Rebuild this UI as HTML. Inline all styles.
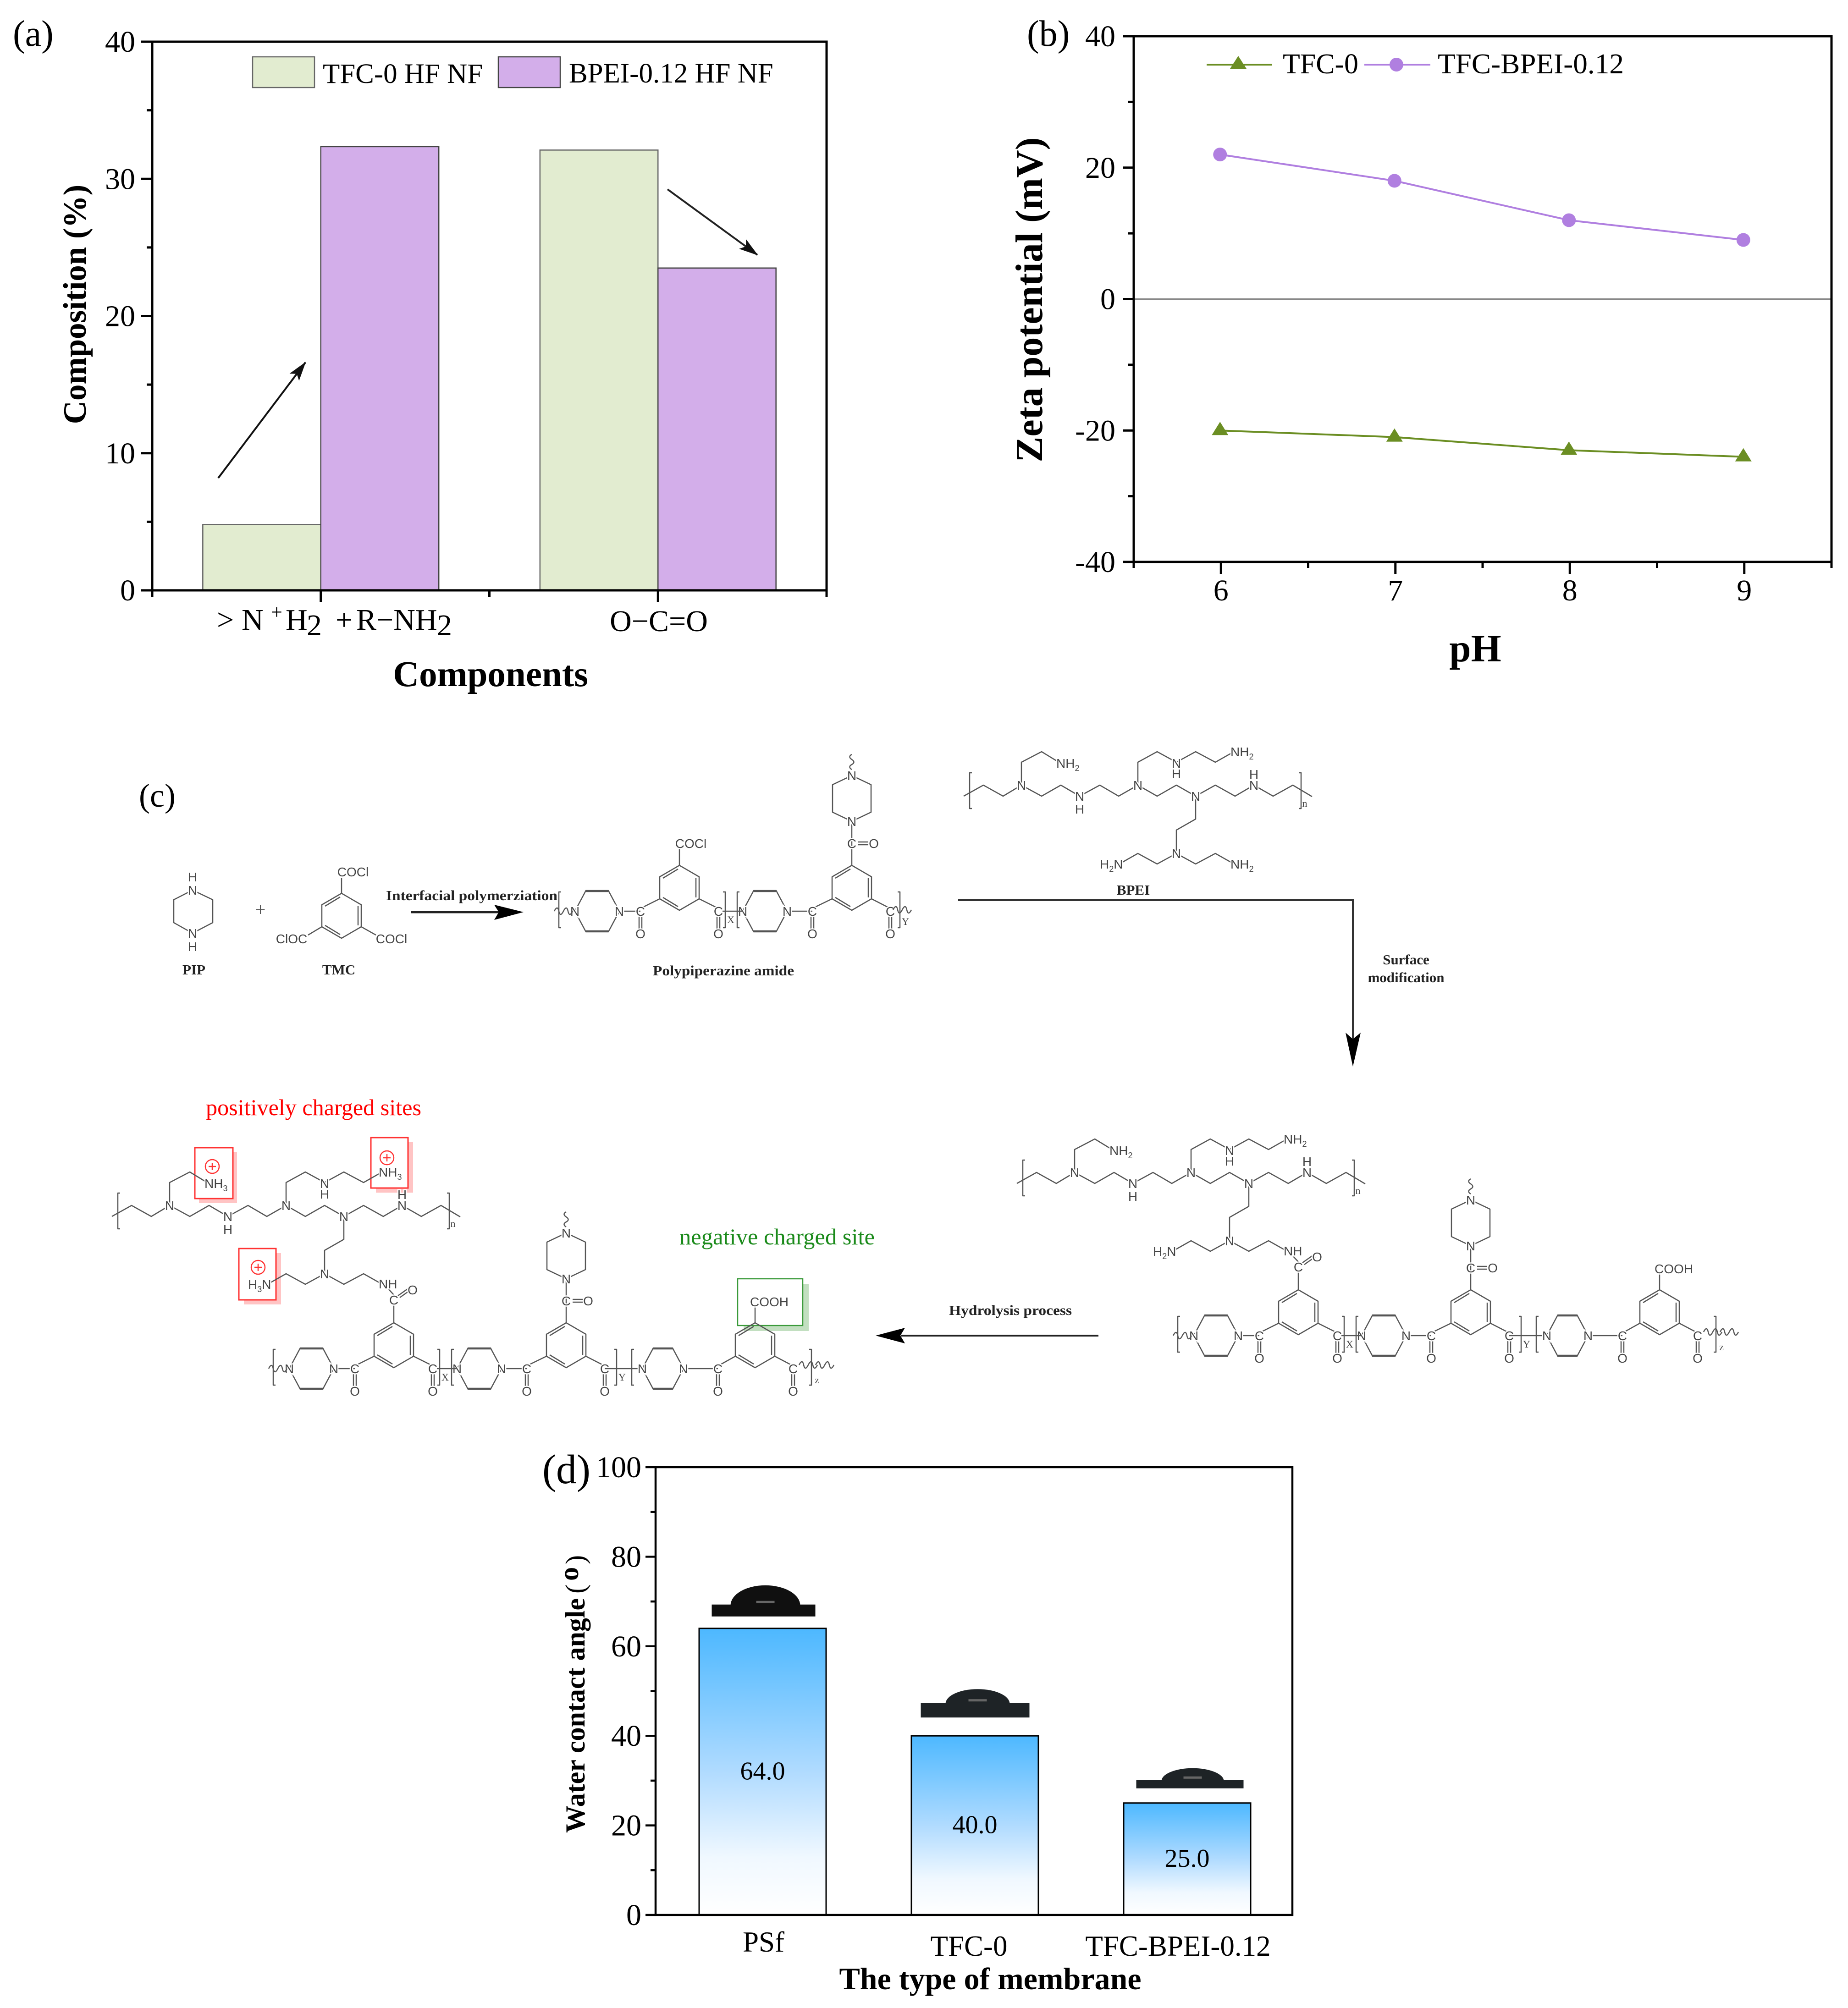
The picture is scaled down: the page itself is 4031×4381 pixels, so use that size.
<!DOCTYPE html>
<html>
<head>
<meta charset="utf-8">
<title>Membrane characterisation figure</title>
<style>
html,body{margin:0;padding:0;background:#fff;}
svg{display:block;}
text{font-family:"Liberation Serif",serif;fill:#000;}
.tick{font-size:66px;}
.title{font-size:76px;font-weight:bold;}
.panel{font-size:80px;}
.chem-title{font-size:31px;font-weight:bold;fill:#222;}
.atom{font-family:"Liberation Sans",sans-serif;font-size:28px;fill:#444;stroke:#fff;stroke-width:5px;paint-order:stroke;}
.small{font-size:22px;fill:#444;}
.bond{fill:none;stroke:#555;stroke-width:2.5;stroke-linejoin:round;}
</style>
</head>
<body>
<svg id="figure" xmlns="http://www.w3.org/2000/svg" width="4031" height="4381" viewBox="0 0 4031 4381">
<defs>
<linearGradient id="barFade" x1="0" y1="0" x2="0" y2="1">
<stop offset="0" stop-color="#4db8ff"/>
<stop offset="0.5" stop-color="#b0dbff"/>
<stop offset="0.8" stop-color="#f0f8ff"/>
<stop offset="1" stop-color="#ffffff"/>
</linearGradient>
<marker id="head" markerUnits="userSpaceOnUse" markerWidth="44" markerHeight="28" refX="40" refY="14" orient="auto">
<path d="M0,1 L42,14 L0,27 L9,14 Z" fill="#111"/>
</marker>
</defs>
<rect width="4031" height="4381" fill="#fff"/>

<!-- Panel a -->
<g id="panelA">
<text class="panel" x="28" y="100">(a)</text>
<text class="title" style="font-size:71px" transform="translate(187,664) rotate(-90)" text-anchor="middle">Composition (%)</text>
<text class="title" style="font-size:79px" x="1070" y="1497" text-anchor="middle">Components</text>
<g>
<rect x="551" y="124" width="135" height="67" fill="#e2ecd0" stroke="#666" stroke-width="2.5"/>
<text style="font-size:61px" x="704" y="181">TFC-0 HF NF</text>
<rect x="1087" y="124" width="135" height="67" fill="#d3aeea" stroke="#444" stroke-width="2.5"/>
<text style="font-size:61px" x="1241" y="180">BPEI-0.12 HF NF</text>
</g>
<text class="tick" y="1374"><tspan x="473">&gt;</tspan><tspan x="527">N</tspan><tspan x="591" y="1350" style="font-size:44px">+</tspan><tspan x="623" y="1374">H</tspan><tspan x="669" y="1386">2</tspan><tspan x="732" y="1374">+</tspan><tspan x="777">R−NH</tspan><tspan x="953" y="1386">2</tspan></text>
<text class="tick" x="1437" y="1377" text-anchor="middle">O−C=O</text>
</g>

<!-- Panel b -->
<g id="panelB">
<text class="panel" x="2240" y="100">(b)</text>
<text class="title" style="font-size:84px" transform="translate(2273,654) rotate(-90)" text-anchor="middle">Zeta potential (mV)</text>
<text class="title" style="font-size:85px" x="3218" y="1443" text-anchor="middle">pH</text>
<g>
<line x1="2632" x2="2774" y1="141" y2="141" stroke="#6b8e23" stroke-width="4"/>
<path d="M2701,122 L2719,150 L2683,150 Z" fill="#6b8e23"/>
<text style="font-size:62px" x="2798" y="160" textLength="165" lengthAdjust="spacingAndGlyphs">TFC-0</text>
<line x1="2976" x2="3120" y1="141" y2="141" stroke="#b07fe0" stroke-width="4"/>
<circle cx="3046" cy="141" r="15" fill="#b07fe0"/>
<text style="font-size:62px" x="3136" y="160" textLength="406" lengthAdjust="spacingAndGlyphs">TFC-BPEI-0.12</text>
</g>
</g>

<!-- Panel c -->
<g id="panelC">
<text style="font-size:72px" x="303" y="1760">(c)</text>
<text class="chem-title" x="423" y="2126" text-anchor="middle">PIP</text>
<text class="chem-title" x="739" y="2126" text-anchor="middle">TMC</text>
<text class="chem-title" x="1578" y="2128" text-anchor="middle" textLength="308" lengthAdjust="spacingAndGlyphs">Polypiperazine amide</text>
<text class="chem-title" x="842" y="1964" textLength="374" lengthAdjust="spacingAndGlyphs">Interfacial polymerziation</text>
<text style="font-size:40px;fill:#555;" x="568" y="1998" text-anchor="middle">+</text>
<line x1="897" y1="1990" x2="1090" y2="1990" stroke="#222" stroke-width="5"/>
<path d="M1142,1990 L1078,1974 L1088,1990 L1078,2007 Z" fill="#000"/>
<text class="chem-title" x="2472" y="1952" text-anchor="middle">BPEI</text>
<path d="M2090,1964 H2951 V2270" fill="none" stroke="#333" stroke-width="4"/>
<path d="M2951,2327 L2935,2253 L2951,2267 L2968,2253 Z" fill="#000"/>
<text class="chem-title" x="3067" y="2104" text-anchor="middle">Surface</text>
<text class="chem-title" x="3067" y="2143" text-anchor="middle">modification</text>
<text class="chem-title" x="2204" y="2869" text-anchor="middle" textLength="268" lengthAdjust="spacingAndGlyphs">Hydrolysis process</text>
<line x1="1965" y1="2914" x2="2396" y2="2914" stroke="#222" stroke-width="4"/>
<path d="M1910,2914 L1974,2897 L1964,2914 L1974,2931 Z" fill="#000"/>
<text style="font-size:50px;fill:#f00;" x="449" y="2433" textLength="470" lengthAdjust="spacingAndGlyphs">positively charged sites</text>
<text style="font-size:50px;fill:#1a8a1a;" x="1482" y="2715" textLength="426" lengthAdjust="spacingAndGlyphs">negative charged site</text>
<g>
<rect x="434" y="2514" width="83" height="111" fill="#ffc4c4"/>
<rect x="425" y="2504" width="83" height="111" fill="#fff" stroke="#f33" stroke-width="3"/>
<rect x="820" y="2492" width="81" height="110" fill="#ffc4c4"/>
<rect x="809" y="2482" width="81" height="110" fill="#fff" stroke="#f33" stroke-width="3"/>
<rect x="532" y="2734" width="81" height="112" fill="#ffc4c4"/>
<rect x="521" y="2724" width="81" height="112" fill="#fff" stroke="#f33" stroke-width="3"/>
<rect x="1622" y="2802" width="142" height="102" fill="#c2dfc0"/>
<rect x="1609" y="2790" width="142" height="102" fill="#fff" stroke="#3a9a3a" stroke-width="2.5"/>
</g>
<g id="chemLayer"></g>
<g fill="none" stroke="#f33" stroke-width="2.5">
<g transform="translate(463,2545)"><circle r="15"/><path d="M-8,0 H8 M0,-8 V8"/></g>
<g transform="translate(844,2526)"><circle r="15"/><path d="M-8,0 H8 M0,-8 V8"/></g>
<g transform="translate(563,2765)"><circle r="15"/><path d="M-8,0 H8 M0,-8 V8"/></g>
</g>
</g>

<!-- Panel d -->
<g id="panelD">
<text style="font-size:90px" x="1183" y="3236">(d)</text>
<text class="title" style="font-size:60px" transform="translate(1275,3999) rotate(-90)">Water contact angle<tspan dx="10" style="font-weight:normal">(</tspan><tspan dx="8" dy="-14" style="font-size:60px">o</tspan><tspan dx="6" dy="14" style="font-weight:normal">)</tspan></text>
<text class="title" style="font-size:68px" x="2160" y="4340" text-anchor="middle">The type of membrane</text>
</g>

<!-- Annotation arrows in panel a -->
<g id="aArrows"></g>
</svg>

<script>
// ---------- Chart data ----------
const compositionCategories = ['amine', 'carboxyl'];
const tfc0Composition = [4.8, 32.1];
const bpeiComposition = [32.35, 23.5];
const compositionTicks = [0, 10, 20, 30, 40];
const compositionMinorTicks = [5, 15, 25, 35];

const phValues = [6, 7, 8, 9];
const phMinorTicks = [5.5, 6.5, 7.5, 8.5, 9.5];
const tfc0Zeta = [-20, -21, -23, -24];
const bpeiZeta = [22, 18, 12, 9];
const zetaTicks = [-40, -20, 0, 20, 40];
const zetaMinorTicks = [-30, -10, 10, 30];

const membranes = ['PSf', 'TFC-0', 'TFC-BPEI-0.12'];
const contactAngles = [64, 40, 25];
const angleTicks = [0, 20, 40, 60, 80, 100];
const angleMinorTicks = [10, 30, 50, 70, 90];

// ---------- Helpers ----------
const NS = 'http://www.w3.org/2000/svg';
function mk(parent, tag, attrs) {
  const e = document.createElementNS(NS, tag);
  for (const k in attrs) e.setAttribute(k, attrs[k]);
  parent.appendChild(e);
  return e;
}
function axisTick(parent, x1, y1, x2, y2, w) {
  const t = mk(parent, 'line', {x1: x1, y1: y1, x2: x2, y2: y2, stroke: '#000', 'stroke-width': w});
  
  
  return t;
}
function tickLabel(parent, x, y, str, anchor) {
  const t = mk(parent, 'text', {x: x, y: y, 'text-anchor': anchor, 'class': 'tick'});
  t.textContent = str;
  
  
  return t;
}
function frame(parent, L, T, R, B, w) {
  const f = mk(parent, 'rect', {x: L, y: T, width: R - L, height: B - T, fill: 'none', stroke: '#000', 'stroke-width': w});
  
  
  return f;
}

// ---------- Panel a ----------
(function () {
  const g = document.getElementById('panelA');
  const L = 332, R = 1803, T = 91, B = 1288;
  const x = c => L + (c + 0.5) * (R - L) / compositionCategories.length;
  const y = v => B - v * (B - T) / 40;
  const barW = 0.35 * (R - L) / compositionCategories.length;
  compositionCategories.forEach((c, i) => {
    const h0 = mk(g, 'rect', {x: x(i) - barW, y: y(tfc0Composition[i]), width: barW, height: B - y(tfc0Composition[i]), fill: '#e2ecd0', stroke: '#666', 'stroke-width': 2.5});
    
    
    const h1 = mk(g, 'rect', {x: x(i), y: y(bpeiComposition[i]), width: barW, height: B - y(bpeiComposition[i]), fill: '#d3aeea', stroke: '#444', 'stroke-width': 2.5});
    
    
  });
  frame(g, L, T, R, B, 5);
  compositionTicks.forEach(v => {
    axisTick(g, L - 24, y(v), L, y(v), 5);
    tickLabel(g, L - 37, y(v) + 22, String(v), 'end');
  });
  compositionMinorTicks.forEach(v => axisTick(g, L - 12, y(v), L, y(v), 5));
  compositionCategories.forEach((c, i) => axisTick(g, x(i), B, x(i), B + 26, 5));
  [L, (L + R) / 2, R].forEach(p => axisTick(g, p, B, p, B + 14, 5));
  const a = document.getElementById('aArrows');
  const a1 = mk(a, 'line', {x1: 476, y1: 1043, x2: 666, y2: 791, stroke: '#111', 'stroke-width': 4, 'marker-end': 'url(#head)'});
  
  
  const a2 = mk(a, 'line', {x1: 1456, y1: 413, x2: 1652, y2: 556, stroke: '#222', 'stroke-width': 4, 'marker-end': 'url(#head)'});
  
  
})();

// ---------- Panel b ----------
(function () {
  const g = document.getElementById('panelB');
  const L = 2473, R = 3995, T = 79, B = 1226;
  const x = p => L + (p - 5.5) * (R - L) / 4;
  const y = v => T + (40 - v) * (B - T) / 80;
  const zero = mk(g, 'line', {x1: L, x2: R, y1: y(0), y2: y(0), stroke: '#888', 'stroke-width': 3});
  
  
  frame(g, L, T, R, B, 5);
  zetaTicks.forEach(v => {
    axisTick(g, L - 24, y(v), L, y(v), 5);
    tickLabel(g, L - 40, y(v) + 22, String(v), 'end');
  });
  zetaMinorTicks.forEach(v => axisTick(g, L - 12, y(v), L, y(v), 5));
  phValues.forEach(p => {
    axisTick(g, x(p), B, x(p), B + 26, 5);
    tickLabel(g, x(p), B + 84, String(p), 'middle');
  });
  phMinorTicks.forEach(p => axisTick(g, x(p), B, x(p), B + 13, 5));
  const lineB = mk(g, 'polyline', {points: phValues.map((p, i) => (x(p) - 2) + ',' + y(bpeiZeta[i])).join(' '), fill: 'none', stroke: '#b07fe0', 'stroke-width': 4});
  
  
  const lineG = mk(g, 'polyline', {points: phValues.map((p, i) => (x(p) - 2) + ',' + y(tfc0Zeta[i])).join(' '), fill: 'none', stroke: '#6b8e23', 'stroke-width': 4});
  
  
  phValues.forEach((p, i) => {
    const c = mk(g, 'circle', {cx: x(p) - 2, cy: y(bpeiZeta[i]), r: 15, fill: '#b07fe0'});
    
    
    const px = x(p) - 2, py = y(tfc0Zeta[i]);
    const tri = mk(g, 'path', {d: 'M' + px + ',' + (py - 19) + ' L' + (px + 18) + ',' + (py + 10) + ' L' + (px - 18) + ',' + (py + 10) + ' Z', fill: '#6b8e23'});
    
    
  });
})();

// ---------- Panel d ----------
(function () {
  const g = document.getElementById('panelD');
  const L = 1430, R = 2819, T = 3201, B = 4178;
  const step = (R - L) / membranes.length;
  const x = i => L + (i + 0.5) * step + 2;
  const y = v => B - v * (B - T) / 100;
  const barW = 277;
  const droplets = [
    {dx: -111, w: 226, top: -52, bot: -26, cx: 6, half: 76, dome: -96, color: '#101010'},
    {dx: -118, w: 237, top: -72, bot: -40, cx: 6, half: 70, dome: -104, color: '#1e2326'},
    {dx: -111, w: 234, top: -50, bot: -32, cx: 12, half: 68, dome: -78, color: '#1e2326'}
  ];
  const labelPos = [{dx: 2, y: 4258}, {dx: -13, y: 4267}, {dx: -20, y: 4267}];
  membranes.forEach((m, i) => {
    const v = contactAngles[i], top = y(v), cx = x(i);
    const bar = mk(g, 'rect', {x: cx - barW / 2, y: top, width: barW, height: B - top, fill: 'url(#barFade)', stroke: '#000', 'stroke-width': 3});
    
    
    const val = mk(g, 'text', {x: cx, y: y(v / 2) + 17, 'text-anchor': 'middle', style: 'font-size:56px'});
    val.textContent = v.toFixed(1);
    
    
    const d = droplets[i];
    const base = mk(g, 'rect', {x: cx + d.dx, y: top + d.top, width: d.w, height: d.bot - d.top, fill: d.color});
    
    
    const dome = mk(g, 'path', {d: 'M' + (cx + d.cx - d.half) + ',' + (top + d.top + 2) + ' A' + d.half + ',' + (d.top - d.dome) + ' 0 0 1 ' + (cx + d.cx + d.half) + ',' + (top + d.top + 2) + ' Z', fill: d.color});
    
    
    const glint = mk(g, 'rect', {x: cx + d.cx - 20, y: top + d.top - 8, width: 40, height: 5, fill: '#666'});
    
    
    const lab = mk(g, 'text', {x: cx + labelPos[i].dx, y: labelPos[i].y, 'text-anchor': 'middle', style: 'font-size:63px'});
    lab.textContent = m;
    
    
  });
  frame(g, L, T, R, B, 4.5);
  angleTicks.forEach(v => {
    axisTick(g, L - 22, y(v), L, y(v), 4.5);
    tickLabel(g, L - 31, y(v) + 22, String(v), 'end');
  });
  angleMinorTicks.forEach(v => axisTick(g, L - 11, y(v), L, y(v), 4.5));
})();

// ---------- Panel c chemistry ----------
const chem = document.getElementById('chemLayer');
function bond(g, pts) {
  const b = mk(g, 'polyline', {points: pts, 'class': 'bond'});
  
  
  return b;
}
function atom(g, x, y, s, anchor) {
  const t = mk(g, 'text', {x: x, y: y + 10, 'class': 'atom', 'text-anchor': anchor || 'middle'});
  
  
  const parts = s.split('_');
  t.appendChild(document.createTextNode(parts[0]));
  for (let i = 1; i < parts.length; i++) {
    const sub = mk(t, 'tspan', {dy: 7, style: 'font-size:18px'});
    sub.textContent = parts[i][0];
    if (parts[i].length > 1 || i < parts.length - 1) {
      const rest = mk(t, 'tspan', {dy: -7});
      rest.textContent = parts[i].slice(1) || '';
    }
  }
  return t;
}
function tagLetter(g, x, y, s) {
  const t = mk(g, 'text', {x: x, y: y, 'class': 'small', 'text-anchor': 'middle'});
  t.textContent = s;
  
  
}
function wiggle(g, x, y) {
  const w = mk(g, 'path', {d: 'M' + x + ',' + y + ' q7,-14 10,0 t10,0 t10,0 t10,0', 'class': 'bond'});
  
  
}
function wiggleV(g, x, y) {
  const w = mk(g, 'path', {d: 'M' + x + ',' + y + ' q-9,-6 0,-11 t0,-11 t0,-11', 'class': 'bond'});
  
  
}
function benzene(g, cx, cy) {
  bond(g, cx + ',' + (cy - 49) + ' ' + (cx + 43) + ',' + (cy - 24) + ' ' + (cx + 43) + ',' + (cy + 24) + ' ' + cx + ',' + (cy + 49) + ' ' + (cx - 43) + ',' + (cy + 24) + ' ' + (cx - 43) + ',' + (cy - 24) + ' ' + cx + ',' + (cy - 49));
  bond(g, (cx - 3) + ',' + (cy - 41) + ' ' + (cx - 36) + ',' + (cy - 21));
  bond(g, (cx + 36) + ',' + (cy - 21) + ' ' + (cx + 36) + ',' + (cy + 21));
  bond(g, (cx - 3) + ',' + (cy + 41) + ' ' + (cx - 36) + ',' + (cy + 21));
}
function ringV(g, cx, yTop, yBot) {
  // vertical piperazine between two N atoms
  const h = (yBot - yTop);
  bond(g, cx + ',' + yTop + ' ' + (cx + 42) + ',' + (yTop + h * 0.2) + ' ' + (cx + 42) + ',' + (yBot - h * 0.2) + ' ' + cx + ',' + yBot + ' ' + (cx - 42) + ',' + (yBot - h * 0.2) + ' ' + (cx - 42) + ',' + (yTop + h * 0.2) + ' ' + cx + ',' + yTop);
  atom(g, cx, yTop, 'N');
  atom(g, cx, yBot, 'N');
}
function unit(g, x, y, u) {
  // u: nr = right N, c1 = amide C, bc = ring centre, c2 = right amide C, top = substituent
  bond(g, x + ',' + y + ' ' + (x + 24) + ',' + (y - 45) + ' ' + (x + u.nr - 24) + ',' + (y - 45) + ' ' + (x + u.nr) + ',' + y + ' ' + (x + u.nr - 24) + ',' + (y + 45) + ' ' + (x + 24) + ',' + (y + 45) + ' ' + x + ',' + y);
  bond(g, (x + 24) + ',' + (y - 43) + ' ' + (x + u.nr - 24) + ',' + (y - 43));
  bond(g, (x + 24) + ',' + (y + 43) + ' ' + (x + u.nr - 24) + ',' + (y + 43));
  bond(g, (x + u.nr) + ',' + y + ' ' + (x + u.c1) + ',' + y);
  const bx = x + u.bc, by = y - 51;
  benzene(g, bx, by);
  bond(g, (bx - 43) + ',' + (by + 24) + ' ' + (x + u.c1 + 4) + ',' + (y - 8));
  bond(g, (bx + 43) + ',' + (by + 24) + ' ' + (x + u.c2 - 4) + ',' + (y - 8));
  [u.c1, u.c2].forEach(c => {
    bond(g, (x + c - 3) + ',' + (y + 12) + ' ' + (x + c - 3) + ',' + (y + 38));
    bond(g, (x + c + 3) + ',' + (y + 12) + ' ' + (x + c + 3) + ',' + (y + 38));
    atom(g, x + c, y, 'C');
    atom(g, x + c, y + 49, 'O');
  });
  atom(g, x, y, 'N');
  atom(g, x + u.nr, y, 'N');
  if (u.top === 'COCl') {
    bond(g, bx + ',' + (by - 49) + ' ' + bx + ',' + (by - 85));
    atom(g, bx + 25, by - 97, 'COCl');
  } else if (u.top === 'COOH') {
    bond(g, bx + ',' + (by - 49) + ' ' + bx + ',' + (by - 85));
    atom(g, bx + 31, by - 95, 'COOH');
  } else if (u.top === 'amideUp') {
    bond(g, bx + ',' + (by - 49) + ' ' + bx + ',' + (by - 88));
    bond(g, (bx + 9) + ',' + (by - 108) + ' ' + (bx + 33) + ',' + (by - 125));
    bond(g, (bx + 13) + ',' + (by - 104) + ' ' + (bx + 37) + ',' + (by - 121));
    bond(g, bx + ',' + (by - 110) + ' ' + (bx - 14) + ',' + (by - 125));
    atom(g, bx, by - 99, 'C');
    atom(g, bx + 41, by - 121, 'O');
  } else if (u.top === 'ring') {
    bond(g, bx + ',' + (by - 49) + ' ' + bx + ',' + (by - 145));
    bond(g, (bx + 14) + ',' + (by - 100) + ' ' + (bx + 36) + ',' + (by - 100));
    bond(g, (bx + 14) + ',' + (by - 94) + ' ' + (bx + 36) + ',' + (by - 94));
    atom(g, bx, by - 97, 'C');
    atom(g, bx + 48, by - 97, 'O');
    ringV(g, bx, by - 245, by - 145);
    wiggleV(g, bx, by - 258);
  }
}
function bracket(g, x, y, dir) {
  const br = mk(g, 'path', {d: 'M' + (x + 5 * dir) + ',' + (y - 42) + ' H' + x + ' V' + (y + 36) + ' H' + (x + 5 * dir), 'class': 'bond'});
  
  
}
function polymerTwoUnits(g, x, y, top1, top2) {
  unit(g, x, y, {nr: 97, c1: 143, bc: 228, c2: 313, top: top1});
  unit(g, x + 366, y, {nr: 97, c1: 152, bc: 238, c2: 322, top: top2});
  bond(g, (x + 322) + ',' + y + ' ' + (x + 366) + ',' + y);
  bracket(g, x - 35, y, 1);
  bracket(g, x + 328, y, -1);
  bracket(g, x + 354, y, 1);
  wiggle(g, x - 45, y);
  tagLetter(g, x + 340, y + 26, 'X');
}
function polyTail(g, x, y) {
  bond(g, (x + 688) + ',' + y + ' ' + (x + 770) + ',' + y);
  unit(g, x + 770, y, {nr: 90, c1: 165, bc: 246, c2: 329, top: 'COOH'});
  bracket(g, x + 714, y, -1);
  bracket(g, x + 747, y, 1);
  bracket(g, x + 1139, y, -1);
  tagLetter(g, x + 726, y + 26, 'Y');
  tagLetter(g, x + 1151, y + 32, 'z');
  wiggle(g, x + 1112, y - 8);
  wiggle(g, x + 1148, y - 8);
}
function bpei(ox, oy, n, tail) {
  const g = mk(chem, 'g', {transform: 'translate(' + ox + ',' + oy + ')'});
  
  
  bond(g, '102,137 145,113 188,137 228,113 272,137 314,113 355,137 399,113 440,137 482,113 524,137 566,113 608,137 651,113 694,137 735,113 777,137 820,113 862,138');
  bond(g, '228,113 228,63 272,40 308,62');
  bond(g, '482,113 482,63 524,40 566,63 608,40 651,63 688,42');
  bond(g, '608,137 608,187 566,211 566,262 524,285 482,262 445,283');
  bond(g, '566,262 608,285 651,262 690,284');
  bracket(g, 115, 128, 1);
  bracket(g, 838, 128, -1);
  tagLetter(g, 846, 160, 'n');
  atom(g, 228, 113, 'N');
  atom(g, 355, 137, 'N');
  atom(g, 355, 165, 'H');
  atom(g, 482, 113, 'N');
  atom(g, 608, 137, 'N');
  atom(g, 735, 113, 'N');
  atom(g, 735, 89, 'H');
  atom(g, 566, 65, 'N');
  atom(g, 566, 88, 'H');
  atom(g, 566, 262, 'N');
  atom(g, 304, 65, 'NH_' + n, 'start');
  atom(g, 684, 40, 'NH_' + n, 'start');
  atom(g, 399, 285, 'H_' + n + 'N', 'start');
  if (tail) {
    atom(g, 684, 284, 'NH', 'start');
  } else {
    atom(g, 684, 285, 'NH_2', 'start');
  }
}
(function () {
  // PIP
  const pip = mk(chem, 'g', {});
  
  
  bond(pip, '420,1942 379,1963 379,2013 420,2036 464,2013 464,1963 420,1942');
  atom(pip, 420, 1942, 'N');
  atom(pip, 420, 1913, 'H');
  atom(pip, 420, 2036, 'N');
  atom(pip, 420, 2065, 'H');
  // TMC
  const tmc = mk(chem, 'g', {});
  
  
  benzene(tmc, 745, 1998);
  bond(tmc, '745,1949 745,1915');
  bond(tmc, '702,2022 672,2040');
  bond(tmc, '788,2022 820,2040');
  atom(tmc, 770, 1902, 'COCl');
  atom(tmc, 636, 2048, 'ClOC');
  atom(tmc, 854, 2048, 'COCl');
  // polyamide
  const pa = mk(chem, 'g', {});
  
  
  polymerTwoUnits(pa, 1254, 1988, 'COCl', 'ring');
  bracket(pa, 1963, 1988, -1);
  tagLetter(pa, 1975, 2018, 'Y');
  wiggle(pa, 1948, 1985);
  // BPEI monomer and modified polymers
  bpei(2000, 1600, '2', false);
  const mod = mk(chem, 'g', {});
  
  
  bpei(2116, 2445, '2', true);
  polymerTwoUnits(mod, 2604, 2914, 'amideUp', 'ring');
  polyTail(mod, 2604, 2914);
  const hyd = mk(chem, 'g', {});
  
  
  bpei(142, 2517, '3', true);
  polymerTwoUnits(hyd, 631, 2986, 'amideUp', 'ring');
  polyTail(hyd, 631, 2986);
})();
</script>
</body>
</html>
